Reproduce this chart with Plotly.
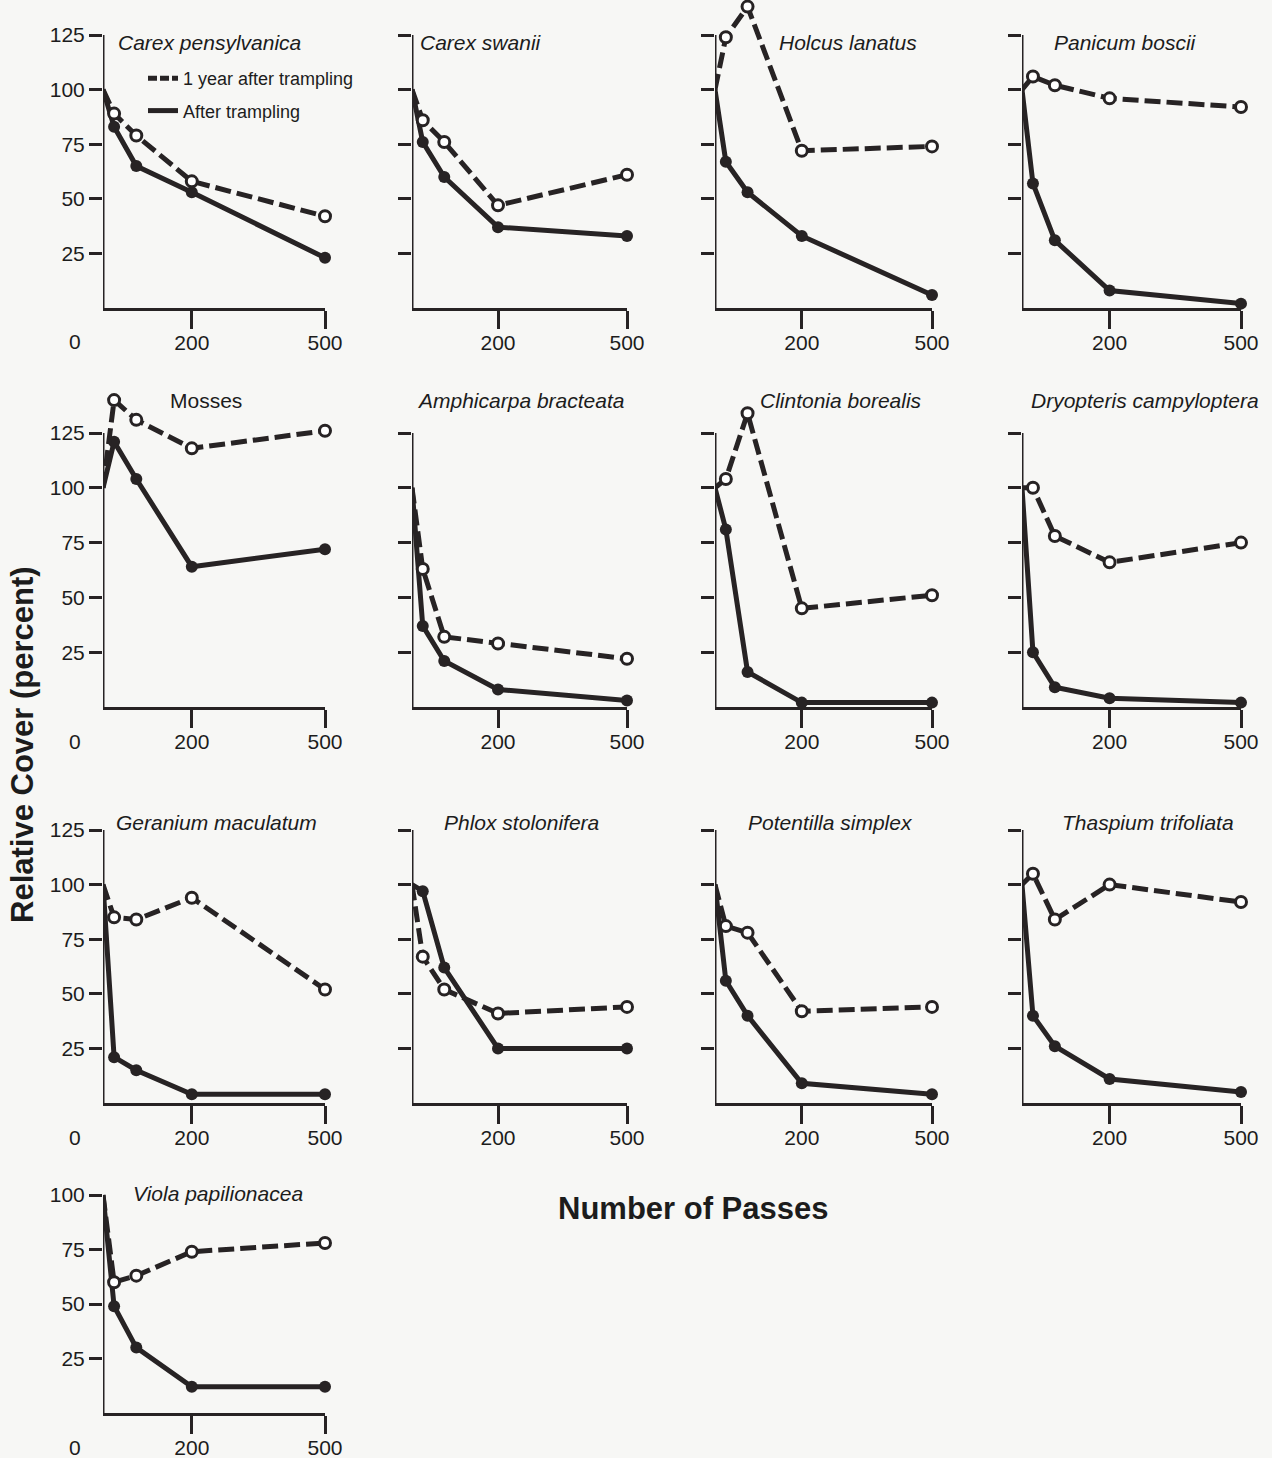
import plotly.graph_objects as go

# ---------------- data ----------------
passes = [0, 25, 75, 200, 500]

species = [
    "Carex pensylvanica", "Carex swanii", "Holcus lanatus", "Panicum boscii",
    "Mosses", "Amphicarpa bracteata", "Clintonia borealis", "Dryopteris campyloptera",
    "Geranium maculatum", "Phlox stolonifera", "Potentilla simplex", "Thaspium trifoliata",
    "Viola papilionacea",
]
italic_name = [True, True, True, True, False, True, True, True, True, True, True, True, True]

after_trampling = [
    [100, 83, 65, 53, 23],
    [100, 76, 60, 37, 33],
    [100, 67, 53, 33, 6],
    [100, 57, 31, 8, 2],
    [100, 121, 104, 64, 72],
    [100, 37, 21, 8, 3],
    [100, 81, 16, 2, 2],
    [100, 25, 9, 4, 2],
    [100, 21, 15, 4, 4],
    [100, 97, 62, 25, 25],
    [100, 56, 40, 9, 4],
    [100, 40, 26, 11, 5],
    [100, 49, 30, 12, 12],
]

one_year_after = [
    [100, 89, 79, 58, 42],
    [100, 86, 76, 47, 61],
    [100, 124, 138, 72, 74],
    [100, 106, 102, 96, 92],
    [100, 140, 131, 118, 126],
    [100, 63, 32, 29, 22],
    [100, 104, 134, 45, 51],
    [100, 100, 78, 66, 75],
    [100, 85, 84, 94, 52],
    [100, 67, 52, 41, 44],
    [100, 81, 78, 42, 44],
    [100, 105, 84, 100, 92],
    [100, 60, 63, 74, 78],
]

y_ticks_tall = [25, 50, 75, 100, 125]
y_ticks_short = [25, 50, 75, 100]
x_ticks = [200, 500]
x_tick_text = ["200", "500"]

# ---------------- layout constants (pixels) ----------------
W, H = 1272, 1458
col_left = [103, 412, 715, 1022]
col_right = [325, 627, 932, 1241]
row_top = [35, 433, 830, 1195]        # pixel of the top tick (axis end)
row_bottom = [308, 707, 1103, 1413]   # pixel of the x axis
row_axis_top = [125, 125, 125, 100]   # value at the top of the drawn axis
row_headroom = [140, 140, 140, 105]   # plotted range top (lets lines rise above the axis)
title_cx = [209, 481, 848, 1125, 206, 520, 841, 1145, 216, 521, 830, 1148, 218]
title_cy = [43, 400, 822, 1193]

INK = "#272324"
TXT = "#1c1c1c"
BG = "#f7f7f5"
FONT = "Liberation Sans, Arial, Helvetica, sans-serif"

fig = go.Figure()
annotations = []
shapes = []

for i, name in enumerate(species):
    r, c = divmod(i, 4)
    suffix = "" if i == 0 else str(i + 1)
    xa, ya = "x" + suffix, "y" + suffix
    hide_first = [0, 1, 1, 1, 1]

    fig.add_trace(go.Scatter(
        x=passes, y=after_trampling[i], xaxis=xa, yaxis=ya,
        mode="lines+markers", cliponaxis=False, showlegend=False,
        line=dict(color=INK, width=5),
        marker=dict(size=12, color=INK, opacity=hide_first),
        name="After trampling",
    ))
    fig.add_trace(go.Scatter(
        x=passes, y=one_year_after[i], xaxis=xa, yaxis=ya,
        mode="lines+markers", cliponaxis=False, showlegend=False,
        line=dict(color=INK, width=5, dash="16px,6px"),
        marker=dict(size=11, color="white", opacity=hide_first,
                    line=dict(color=INK, width=3)),
        name="1 year after trampling",
    ))

    axis_top = row_axis_top[r]
    top_val = row_headroom[r]
    ppu = (row_bottom[r] - row_top[r]) / axis_top
    dom_top_px = row_top[r] - (top_val - axis_top) * ppu

    fig.update_layout({
        ("xaxis" + suffix): dict(
            domain=[col_left[c] / W, col_right[c] / W], range=[0, 500],
            anchor=ya, showline=True, linecolor=INK, linewidth=3,
            ticks="outside", tickvals=x_ticks, ticktext=x_tick_text,
            ticklen=18, tickwidth=3, tickcolor=INK, showgrid=False, zeroline=False,
            automargin=False, fixedrange=True, ticklabelstandoff=-4,
            tickfont=dict(size=21, color=TXT, family=FONT),
        ),
        ("yaxis" + suffix): dict(
            domain=[1 - row_bottom[r] / H, 1 - dom_top_px / H], range=[0, top_val],
            anchor=xa, showline=False,
            ticks="outside", tickvals=y_ticks_tall if axis_top == 125 else y_ticks_short,
            ticklen=13, tickwidth=3, tickcolor=INK, showgrid=False, zeroline=False,
            showticklabels=(c == 0), automargin=False, fixedrange=True,
            tickfont=dict(size=21, color=TXT, family=FONT),
        ),
    })
    # vertical axis line, ending at the top tick
    shapes.append(dict(type="line", xref=xa, yref=ya, x0=0, x1=0, y0=0, y1=axis_top,
                       line=dict(color=INK, width=3), layer="below"))

    label = f"<i>{name}</i>" if italic_name[i] else name
    annotations.append(dict(
        text=label, xref="paper", yref="paper",
        x=title_cx[i] / W, y=1 - title_cy[r] / H,
        xanchor="center", yanchor="middle", showarrow=False,
        font=dict(size=21, color=TXT, family=FONT),
    ))
    if c == 0:
        annotations.append(dict(
            text="0", xref="paper", yref="paper",
            x=75 / W, y=1 - (row_bottom[r] + 34) / H,
            xanchor="center", yanchor="middle", showarrow=False,
            font=dict(size=21, color=TXT, family=FONT),
        ))

# legend entries (line samples only)
fig.add_trace(go.Scatter(x=[None], y=[None], mode="lines", name="1 year after trampling",
                         line=dict(color=INK, width=5, dash="9px,3px"), legendgroup="a"))
fig.add_trace(go.Scatter(x=[None], y=[None], mode="lines", name="After trampling",
                         line=dict(color=INK, width=5), legendgroup="b"))

annotations.append(dict(
    text="<b>Relative Cover (percent)</b>", xref="paper", yref="paper",
    x=22 / W, y=1 - 745 / H, textangle=-90, xanchor="center", yanchor="middle",
    showarrow=False, font=dict(size=31, color=TXT, family=FONT),
))
annotations.append(dict(
    text="<b>Number of Passes</b>", xref="paper", yref="paper",
    x=693 / W, y=1 - 1208 / H, xanchor="center", yanchor="middle",
    showarrow=False, font=dict(size=31, color=TXT, family=FONT),
))

fig.update_layout(
    width=W, height=H, margin=dict(l=0, r=0, t=0, b=0, autoexpand=False),
    paper_bgcolor=BG, plot_bgcolor=BG,
    font=dict(family=FONT, color=TXT),
    annotations=annotations, shapes=shapes,
    showlegend=True,
    legend=dict(x=143 / W, y=1 - 60 / H, xanchor="left", yanchor="top",
                bgcolor="rgba(0,0,0,0)", font=dict(size=18, family=FONT, color=TXT),
                tracegroupgap=6, traceorder="grouped"),
)

fig.write_html("out.html")
